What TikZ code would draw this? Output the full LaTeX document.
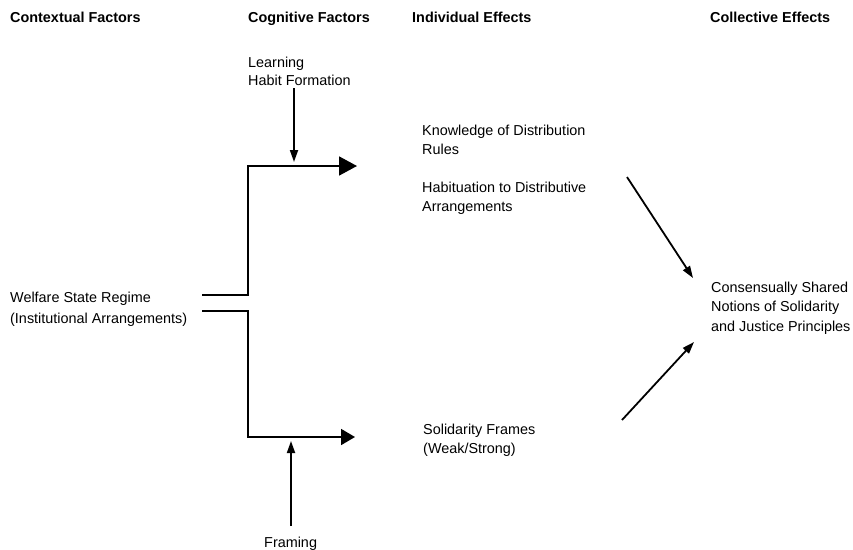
\documentclass[tikz,border=0pt]{standalone}
\usepackage{fontspec}
\setmainfont{Liberation Sans}
\usetikzlibrary{arrows.meta}
\begin{document}
\begin{tikzpicture}[x=1pt,y=-1pt,
  txt/.style={font=\fontsize{14.4}{19.5}\selectfont, inner sep=0pt, align=left, anchor=base west},
  hdr/.style={font=\bfseries\fontsize{14.4}{17}\selectfont, inner sep=0pt, anchor=base west},
  ln/.style={line width=1.8pt},
  bigtip/.style={-{Triangle[length=18pt,width=19pt]}},
  midtip/.style={-{Triangle[length=14pt,width=16pt]}},
  smalltip/.style={-{Triangle[length=12pt,width=8pt]}}
]
\useasboundingbox (0,0) rectangle (853,549);
% headers
\node[hdr] (h1) at (10,22) {Contextual Factors};
\node[hdr] (h2) at (248,22) {Cognitive Factors};
\node[hdr] (h3) at (412,22) {Individual Effects};
\node[hdr] (h4) at (710,22) {Collective Effects};
% texts
\node[txt] (learn) at (248,67) {Learning};
\node[txt] (habit) at (248,85) {Habit Formation};
\node[txt] (know) at (422,135) {Knowledge of Distribution};
\node[txt] (rules) at (422,154) {Rules};
\node[txt] (habi) at (422,192) {Habituation to Distributive};
\node[txt] (arr) at (422,211) {Arrangements};
\node[txt] (wel) at (10,302) {Welfare State Regime};
\node[txt] (inst) at (10,323) {(Institutional Arrangements)};
\node[txt] (sol) at (423,434) {Solidarity Frames};
\node[txt] (weak) at (423,453) {(Weak/Strong)};
\node[txt] (cons1) at (711,292) {Consensually Shared};
\node[txt] (cons2) at (711,311) {Notions of Solidarity};
\node[txt] (cons3) at (711,331) {and Justice Principles};
\node[txt] (fram) at (264,547) {Framing};
% coordinates
\coordinate (wt) at (202,295);
\coordinate (wb) at (202,311);
\coordinate (tt) at (357,166);
\coordinate (bt) at (355,437);
\coordinate (ls) at (294,88);
\coordinate (le) at (294,162);
\coordinate (fs) at (291,526);
\coordinate (fe) at (291,441);
\coordinate (d1s) at (627,177);
\coordinate (d1e) at (693,278);
\coordinate (d2s) at (622,420);
\coordinate (d2e) at (694,342);
% connectors
\draw[ln,bigtip] (wt) -| (248,166) -- (tt);
\draw[ln,midtip] (wb) -| (248,437) -- (bt);
\draw[ln,smalltip] (ls) -- (le);
\draw[ln,smalltip] (fs) -- (fe);
\draw[ln,smalltip] (d1s) -- (d1e);
\draw[ln,smalltip] (d2s) -- (d2e);
\end{tikzpicture}
\end{document}
